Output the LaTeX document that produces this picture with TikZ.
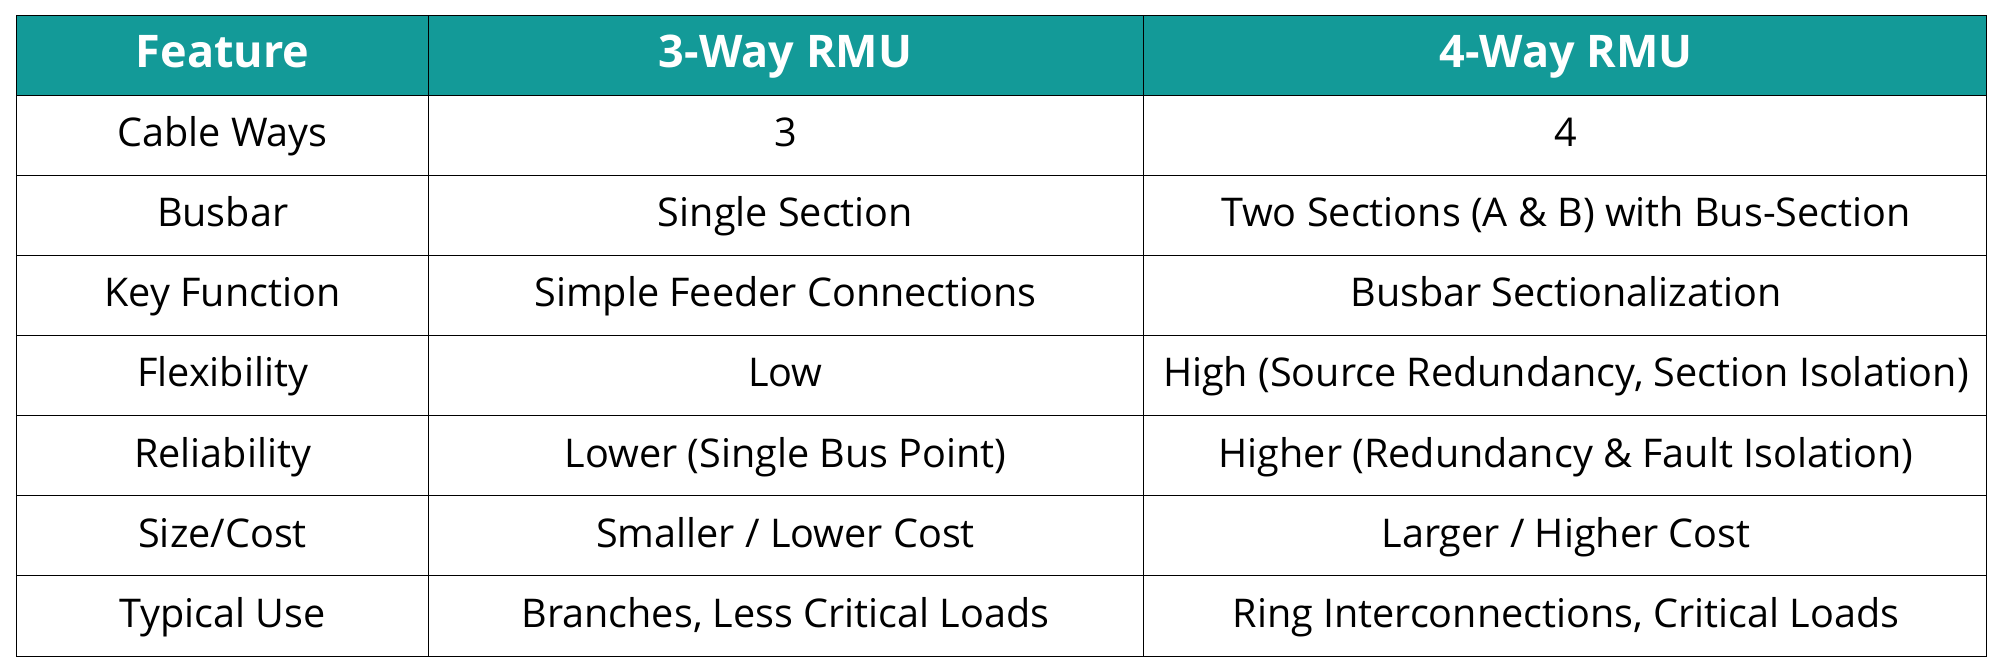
\documentclass[tikz,border=0pt]{standalone}
\usepackage{fontspec}
\setmainfont{Open Sans}
\definecolor{teal1}{HTML}{139A98}
\begin{document}
\begin{tikzpicture}[x=0.05cm,y=-0.05cm,
  cell/.style={font=\fontsize{44}{48}\selectfont, text=black, text height=32pt, text depth=9pt},
  head/.style={font=\fontsize{50}{54}\selectfont\bfseries, text=white, text height=36pt, text depth=10pt}]
\useasboundingbox (0,0) rectangle (1568,525);
\fill[teal1] (13,12) rectangle (1553,75);
\foreach \y in {75,137,200,262,325,387,450} \draw[line width=1pt] (13,\y) -- (1553,\y);
\draw[line width=1pt] (13,12) rectangle (1553,513);
\foreach \x in {335,894} \draw[line width=1pt] (\x,12) -- (\x,513);
\node[head] (h1) at (174,44) {Feature};
\node[head] (h2) at (614,44) {3-Way RMU};
\node[head] (h3) at (1224,44) {4-Way RMU};
\foreach \a/\b/\c [count=\i] in {
 Cable Ways/3/4,
 Busbar/Single Section/Two Sections (A \& B) with Bus-Section,
 Key Function/Simple Feeder Connections/Busbar Sectionalization,
 Flexibility/Low/{High (Source Redundancy, Section Isolation)},
 Reliability/Lower (Single Bus Point)/Higher (Redundancy \& Fault Isolation),
 {Size/Cost}/{Smaller / Lower Cost}/{Larger / Higher Cost},
 Typical Use/{Branches, Less Critical Loads}/{Ring Interconnections, Critical Loads}} {
  \node[cell] (a\i) at (174,{44+62.6*\i}) {\a};
  \node[cell] (b\i) at (614,{44+62.6*\i}) {\b};
  \node[cell] (c\i) at (1224,{44+62.6*\i}) {\c};
}
\end{tikzpicture}
\end{document}
